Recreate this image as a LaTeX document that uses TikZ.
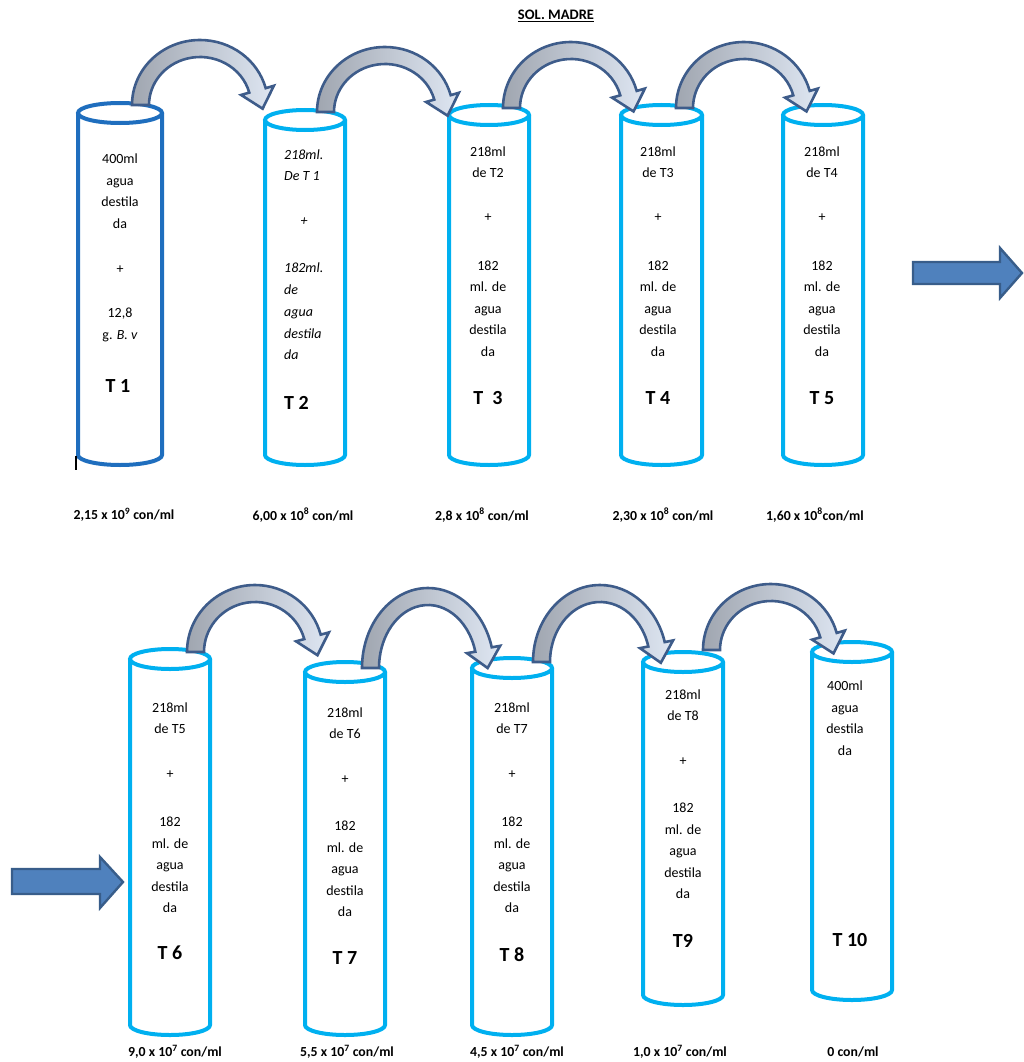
\documentclass[tikz,border=0pt]{standalone}
\usepackage{fontspec}
\setmainfont{Carlito}
\definecolor{tubedark}{RGB}{31,110,190}
\definecolor{tubelight}{RGB}{0,176,240}
\definecolor{arrline}{RGB}{62,92,138}
\definecolor{arrgray}{RGB}{160,166,176}
\definecolor{arrlight}{RGB}{222,230,242}
\definecolor{blockfill}{RGB}{79,129,189}
\definecolor{blockline}{RGB}{56,93,138}
\tikzset{
  tubeline/.style={line width=4pt},
  curvarrow/.style={draw=arrline, line width=2.6pt, line join=miter, left color=arrgray, right color=arrlight},
  blockarrow/.style={draw=blockline, fill=blockfill, line width=2.4pt, line join=miter},
  txt/.style={font=\fontsize{14}{21.5}\selectfont, align=center, inner sep=0pt},
  lbl/.style={font=\fontsize{20}{22}\selectfont\bfseries, inner sep=0pt},
  conc/.style={font=\fontsize{13.8}{15}\selectfont\bfseries, inner sep=0pt},
}
% tube: name, xl, xr, ytop, ybot, colour
\newcommand\tubeshape[6]{%
  \pgfmathsetmacro\tbcx{(#2+#3)/2}%
  \pgfmathsetmacro\tbrx{(#3-#2)/2}%
  \coordinate (#1) at (\tbcx,#4);
  \draw[tubeline,#6] (#2,#4) -- (#2,#5) arc[start angle=180,end angle=0,x radius=\tbrx,y radius=10] -- (#3,#4);
  \draw[tubeline,#6] (\tbcx,#4) ellipse[x radius=\tbrx,y radius=10];
}
% curved arrow: cx, cy, rx outer, ry outer, end angle
\newcommand\curvarr[5]{%
  \pgfmathsetmacro\carxi{#3-17}%
  \pgfmathsetmacro\caryi{#4-17}%
  \pgfmathsetmacro\caoxe{#1+#3*cos(#5)}%
  \pgfmathsetmacro\caoye{#2-#4*sin(#5)}%
  \pgfmathsetmacro\caixe{#1+\carxi*cos(#5)}%
  \pgfmathsetmacro\caiye{#2-\caryi*sin(#5)}%
  \pgfmathsetmacro\camx{(\caoxe+\caixe)/2}%
  \pgfmathsetmacro\camy{(\caoye+\caiye)/2}%
  \pgfmathsetmacro\cadx{#3*sin(#5)}%
  \pgfmathsetmacro\cady{#4*cos(#5)}%
  \pgfmathsetmacro\cadl{sqrt(\cadx*\cadx+\cady*\cady)}%
  \pgfmathsetmacro\caux{\cadx/\cadl}%
  \pgfmathsetmacro\cauy{\cady/\cadl}%
  \draw[curvarrow] (#1-#3,#2) arc[start angle=-180,end angle=-#5,x radius=#3,y radius=#4]
    -- (\camx+17*\cauy,\camy-17*\caux) -- (\camx+19*\caux,\camy+19*\cauy)
    -- (\camx-17*\cauy,\camy+17*\caux) -- (\caixe,\caiye)
    arc[start angle=-#5,end angle=-180,x radius=\carxi,y radius=\caryi] -- cycle;
}
\begin{document}
\begin{tikzpicture}[x=1pt,y=-1pt]
\useasboundingbox (0,0) rectangle (1024,1062);

\node[inner sep=0pt, font=\fontsize{14.5}{16}\selectfont\bfseries] (title) at (556,16) {\underline{SOL. MADRE}};

% ---- tubes row 1
\tubeshape{T1}{78}{162}{113}{455}{tubedark}
\tubeshape{T2}{265}{345}{120}{455}{tubelight}
\tubeshape{T3}{449}{529}{115}{455}{tubelight}
\tubeshape{T4}{621}{702}{115}{455}{tubelight}
\tubeshape{T5}{783}{863}{115}{455}{tubelight}
% ---- tubes row 2
\tubeshape{T6}{130}{210}{659}{1025}{tubelight}
\tubeshape{T7}{305}{385}{672}{1025}{tubelight}
\tubeshape{T8}{472}{552}{668}{1025}{tubelight}
\tubeshape{T9}{643}{723}{662}{995}{tubelight}
\tubeshape{T10}{812}{892}{652}{990}{tubelight}

\draw[line width=1.6pt] (76,456) -- (76,470);

% ---- curved arrows row 1
\curvarr{200}{105}{68}{65}{15}
\curvarr{385}{112}{68}{65}{15}
\curvarr{571}{108}{68}{66}{15}
\curvarr{744}{108}{68}{66}{15}
% ---- curved arrows row 2
\curvarr{255}{652}{68}{67}{15}
\curvarr{428}{668}{66}{80}{15}
\curvarr{600}{662}{67}{77}{15}
\curvarr{771}{650}{68}{66}{15}

% ---- straight arrows
\draw[blockarrow] (913,262) -- (1000,262) -- (1000,248) -- (1022,273) -- (1000,298) -- (1000,284) -- (913,284) -- cycle;
\draw[blockarrow] (12,869) -- (100,869) -- (100,857) -- (123,882) -- (100,908) -- (100,894) -- (12,894) -- cycle;

% ---- texts T1
\node[txt] (t1a) at (120,191) {400ml\\agua\\destila\\da};
\node[txt] (t1p) at (120,270) {+};
\node[txt] (t1b) at (120,325) {12,8\\g. \textit{B. v}};
\node[lbl] (t1l) at (118,386) {T 1};
% T2
\node[txt, align=left, anchor=west, font=\fontsize{14}{20.5}\selectfont\itshape] (t2a) at (284,165) {218ml.\\De T 1};
\node[txt, font=\fontsize{14}{15}\selectfont\itshape] (t2p) at (304,222) {+};
\node[txt, align=left, anchor=west, font=\fontsize{14}{21.75}\selectfont\itshape] (t2b) at (284,311.5) {182ml.\\de\\agua\\destila\\da};
\node[lbl, anchor=west] (t2l) at (284,403) {T 2};
% T3
\node[txt] (t3a) at (488,162) {218ml\\de T2};
\node[txt] (t3p) at (488,218) {+};
\node[txt] (t3b) at (488,308.5) {182\\ml. de\\agua\\destila\\da};
\node[lbl] (t3l) at (488,398) {T\ \ 3};
% T4
\node[txt] (t4a) at (658,162) {218ml\\de T3};
\node[txt] (t4p) at (658,218) {+};
\node[txt] (t4b) at (658,308.5) {182\\ml. de\\agua\\destila\\da};
\node[lbl] (t4l) at (658,398) {T 4};
% T5
\node[txt] (t5a) at (822,162) {218ml\\de T4};
\node[txt] (t5p) at (822,218) {+};
\node[txt] (t5b) at (822,308.5) {182\\ml. de\\agua\\destila\\da};
\node[lbl] (t5l) at (822,398) {T 5};
% T6
\node[txt] (t6a) at (170,718) {218ml\\de T5};
\node[txt] (t6p) at (170,775) {+};
\node[txt] (t6b) at (170,865) {182\\ml. de\\agua\\destila\\da};
\node[lbl] (t6l) at (170,953) {T 6};
% T7
\node[txt] (t7a) at (345,723) {218ml\\de T6};
\node[txt] (t7p) at (345,780) {+};
\node[txt] (t7b) at (345,869) {182\\ml. de\\agua\\destila\\da};
\node[lbl] (t7l) at (345,958) {T 7};
% T8
\node[txt] (t8a) at (512,718) {218ml\\de T7};
\node[txt] (t8p) at (512,775) {+};
\node[txt] (t8b) at (512,865) {182\\ml. de\\agua\\destila\\da};
\node[lbl] (t8l) at (512,955) {T 8};
% T9
\node[txt] (t9a) at (683,705) {218ml\\de T8};
\node[txt] (t9p) at (683,762) {+};
\node[txt] (t9b) at (683,851) {182\\ml. de\\agua\\destila\\da};
\node[lbl] (t9l) at (683,941) {T9};
% T10
\node[txt] (t10a) at (845,718) {400ml\\agua\\destila\\da};
\node[lbl] (t10l) at (850,940) {T 10};

% ---- concentrations
\node[conc] (c1) at (124,515) {2,15 x 10\textsuperscript{9} con/ml};
\node[conc] (c2) at (303,515) {6,00 x 10\textsuperscript{8} con/ml};
\node[conc] (c3) at (482,515) {2,8 x 10\textsuperscript{8} con/ml};
\node[conc] (c4) at (663,515) {2,30 x 10\textsuperscript{8} con/ml};
\node[conc] (c5) at (815,515) {1,60 x 10\textsuperscript{8}con/ml};
\node[conc] (c6) at (175,1052) {9,0 x 10\textsuperscript{7} con/ml};
\node[conc] (c7) at (347,1052) {5,5 x 10\textsuperscript{7} con/ml};
\node[conc] (c8) at (517,1052) {4,5 x 10\textsuperscript{7} con/ml};
\node[conc] (c9) at (680,1052) {1,0 x 10\textsuperscript{7} con/ml};
\node[conc] (c10) at (853,1052) {0 con/ml};
\end{tikzpicture}
\end{document}
